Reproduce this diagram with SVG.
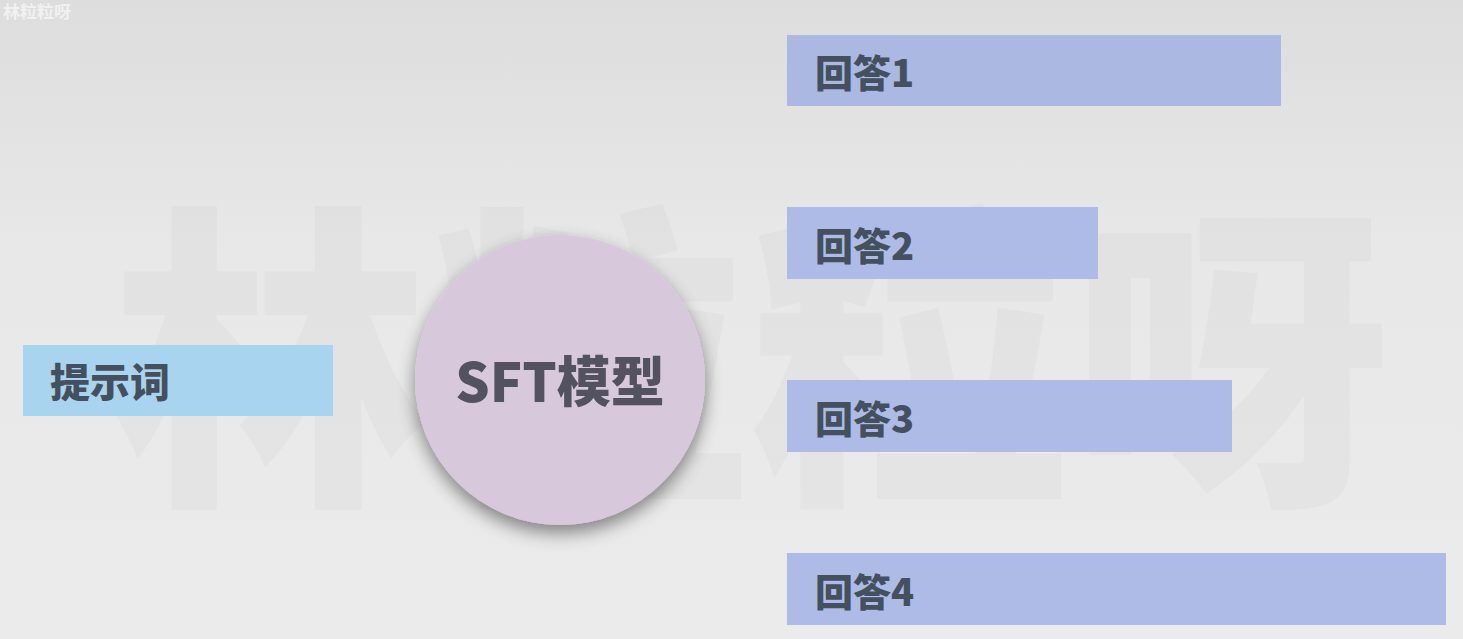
<svg xmlns="http://www.w3.org/2000/svg" width="1463" height="639" viewBox="0 0 1463 639">
  <defs>
    <linearGradient id="bg" x1="0" y1="0" x2="0" y2="1">
      <stop offset="0" stop-color="#dddddd"/>
      <stop offset="0.4" stop-color="#e8e8e8"/>
      <stop offset="1" stop-color="#ebebeb"/>
    </linearGradient>
    <filter id="shadow" x="-30%" y="-30%" width="160%" height="170%">
      <feGaussianBlur in="SourceAlpha" stdDeviation="9"/>
      <feOffset dx="0" dy="8" result="b"/>
      <feComponentTransfer><feFuncA type="linear" slope="0.45"/></feComponentTransfer>
      <feMerge><feMergeNode/><feMergeNode in="SourceGraphic"/></feMerge>
    </filter>
  </defs>
  <style>
    .lbl { font-family: "Noto Sans CJK SC", "Noto Sans", sans-serif; font-weight: 900; fill: #45505f; }
    .ans { fill: #adbbe6; }
    .wm { font-family: "Noto Sans CJK SC", sans-serif; font-weight: 900; fill: #000000; fill-opacity: 0.025; }
  </style>
  <rect x="0" y="0" width="1463" height="639" fill="url(#bg)"/>
  <g id="watermark">
    <text class="wm" x="110" y="480" font-size="320" textLength="1280" lengthAdjust="spacingAndGlyphs">林粒粒呀</text>
    <text x="3" y="18" font-family="Noto Sans CJK SC, sans-serif" font-weight="700" font-size="17" fill="#ffffff" fill-opacity="0.6">林粒粒呀</text>
  </g>
  <g id="connectors"></g>
  <g id="prompt">
    <rect x="23" y="345" width="310" height="71" fill="#a9d4f0"/>
    <text class="lbl" x="50" y="397" font-size="40">提示词</text>
  </g>
  <g id="sft">
    <circle cx="560" cy="380" r="145" fill="#d8c8dc" filter="url(#shadow)"/>
    <text class="lbl" x="560" y="402" font-size="54" text-anchor="middle" style="fill:#535260">SFT模型</text>
  </g>
  <g id="answer1">
    <rect class="ans" x="787" y="35" width="494" height="71" style="fill:#aab8e2"/>
    <text class="lbl" x="815" y="87" font-size="38">回答1</text>
  </g>
  <g id="answer2">
    <rect class="ans" x="787" y="207" width="311" height="72"/>
    <text class="lbl" x="815" y="260" font-size="38">回答2</text>
  </g>
  <g id="answer3">
    <rect class="ans" x="787" y="380" width="445" height="72"/>
    <text class="lbl" x="815" y="433" font-size="38">回答3</text>
  </g>
  <g id="answer4">
    <rect class="ans" x="787" y="553" width="659" height="72"/>
    <text class="lbl" x="815" y="606" font-size="38">回答4</text>
  </g>
</svg>
